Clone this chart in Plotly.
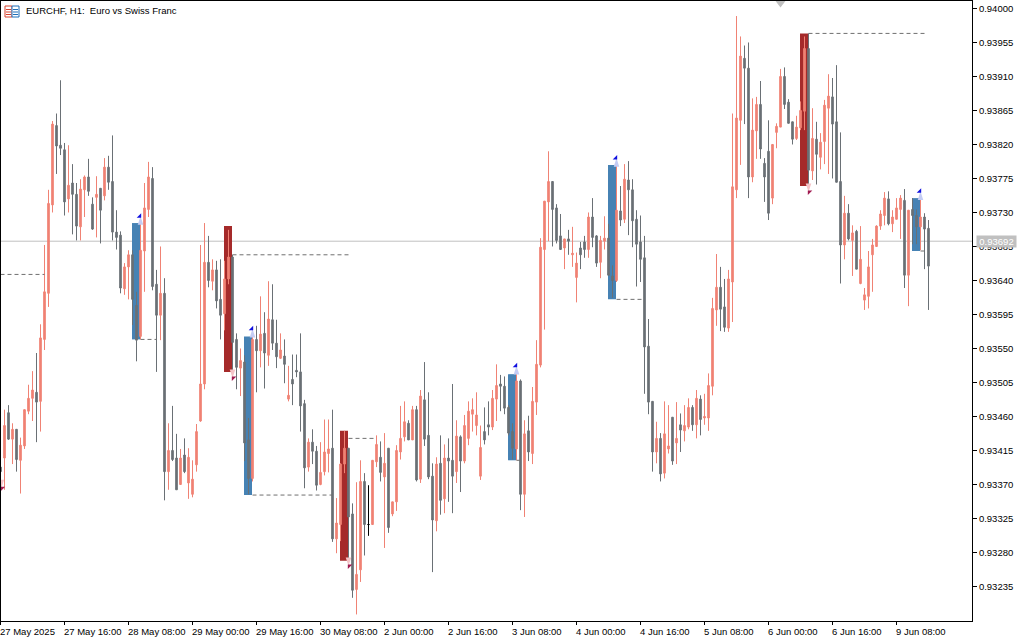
import plotly.graph_objects as go

# Prices are in points (1 point = 0.00001)
opens = [
93393,93405,93465,93430,93443,93402,93421,93467,93484,93492,
93480,93562,93623,93740,93845,93819,93813,93748,93769,93754,
93711,93760,93777,93741,93750,93762,93752,93790,93771,93704,
93700,93629,93658,93674,93607,93566,93679,93734,93775,93635,
93594,93623,93387,93415,93405,93370,93409,93372,93357,93396,
93454,93503,93664,93639,93654,93615,93596,93642,93671,93562,
93524,93532,93429,93378,93562,93547,93570,93541,93588,93557,
93537,93540,93483,93509,93521,93519,93477,93393,93426,93414,
93370,93387,93411,93418,93298,93317,93397,93418,93331,93231,
93257,93374,93317,93317,93400,93406,93380,93418,93331,93347,
93413,93433,93451,93429,93469,93377,93482,93435,93381,93322,
93398,93351,93405,93402,93387,93433,93401,93431,93463,93448,
93381,93440,93449,93446,93483,93503,93500,93472,93440,93417,
93507,93357,93441,93411,93479,93528,93681,93744,93771,93736,
93699,93683,93695,93674,93644,93683,93691,93681,93724,93699,
93664,93692,93696,93646,93640,93732,93721,93773,93760,93721,
93691,93670,93553,93480,93413,93431,93385,93417,93459,93425,
93449,93441,93446,93472,93449,93483,93458,93458,93500,93601,
93631,93605,93577,93638,93760,93852,93934,93921,93777,93838,
93873,93795,93811,93749,93836,93843,93910,93876,93850,93828,
93842,93864,93947,93785,93827,93803,93824,93868,93883,93850,
93771,93687,93729,93693,93705,93636,93614,93619,93674,93685,
93712,93726,93748,93715,93721,93734,93746,93647,93734,93726,
93711,93724,93709]
closes = [
93387,93448,93430,93443,93403,93422,93469,93484,93495,93479,
93564,93625,93742,93847,93818,93815,93744,93766,93754,93712,
93761,93777,93758,93708,93754,93733,93790,93770,93704,93697,
93630,93658,93674,93615,93561,93680,93736,93777,93632,93594,
93623,93387,93415,93403,93363,93405,93387,93406,93377,93440,
93503,93664,93640,93654,93613,93594,93642,93671,93558,93525,
93534,93425,93378,93562,93547,93569,93544,93589,93557,93539,
93548,93529,93488,93503,93519,93474,93392,93426,93414,93369,
93386,93413,93417,93298,93319,93397,93418,93327,93230,93251,
93374,93317,93317,93402,93423,93386,93398,93313,93347,93415,
93431,93453,93429,93469,93376,93487,93430,93380,93323,93397,
93349,93405,93401,93381,93434,93401,93448,93467,93469,93462,
93419,93429,93446,93484,93501,93500,93471,93438,93418,93507,
93357,93437,93413,93480,93529,93684,93745,93771,93734,93693,
93681,93695,93692,93676,93663,93674,93681,93724,93697,93663,
93693,93696,93647,93640,93733,93720,93774,93760,93719,93688,
93668,93552,93479,93413,93431,93384,93437,93421,93401,93431,
93442,93448,93472,93449,93484,93456,93460,93501,93603,93631,
93602,93578,93642,93764,93855,93937,93921,93777,93839,93873,
93814,93777,93729,93820,93844,93910,93873,93848,93827,93843,
93865,93947,93786,93828,93807,93823,93872,93884,93847,93770,
93687,93729,93695,93703,93655,93668,93621,93658,93687,93712,
93728,93749,93715,93724,93736,93749,93647,93733,93726,93711,
93724,93708,93659]
highs = [
93398,93469,93475,93451,93443,93432,93469,93502,93520,93544,
93582,93687,93760,93851,93861,93905,93822,93819,93794,93769,
93774,93779,93801,93750,93778,93762,93802,93805,93832,93733,
93705,93663,93680,93680,93625,93716,93769,93797,93790,93654,
93685,93643,93451,93474,93437,93417,93431,93418,93402,93450,
93687,93716,93699,93668,93666,93668,93666,93707,93674,93570,
93550,93541,93458,93566,93580,93619,93598,93639,93635,93588,
93570,93562,93527,93542,93542,93570,93482,93431,93443,93421,
93426,93456,93456,93469,93352,93398,93441,93418,93345,93373,
93402,93385,93369,93402,93435,93427,93438,93418,93347,93422,
93474,93480,93455,93474,93474,93495,93532,93492,93398,93406,
93435,93423,93431,93503,93455,93435,93462,93480,93484,93492,
93448,93472,93480,93495,93529,93515,93513,93475,93451,93516,
93509,93455,93461,93499,93561,93696,93745,93811,93771,93741,
93728,93695,93707,93711,93677,93691,93699,93730,93749,93700,
93699,93725,93715,93660,93793,93765,93794,93798,93774,93733,
93726,93699,93589,93480,93453,93438,93480,93475,93459,93479,
93464,93475,93484,93475,93495,93488,93490,93517,93617,93675,
93658,93642,93654,93861,93990,93963,93951,93955,93881,93883,
93904,93802,93852,93820,93848,93920,93922,93880,93850,93858,
93877,93963,93967,93868,93850,93835,93879,93913,93908,93925,
93836,93752,93741,93713,93707,93712,93630,93679,93695,93713,
93733,93757,93758,93733,93749,93753,93761,93733,93749,93734,
93749,93729,93720]
lows = [
93362,93363,93429,93397,93387,93358,93417,93463,93454,93426,
93440,93548,93605,93730,93781,93806,93726,93730,93701,93693,
93693,93724,93752,93707,93697,93689,93746,93760,93693,93681,
93623,93621,93615,93581,93533,93562,93625,93724,93627,93519,
93561,93349,93363,93401,93363,93370,93385,93351,93353,93387,
93453,93496,93631,93627,93603,93562,93574,93635,93517,93496,
93487,93401,93357,93374,93492,93525,93497,93527,93548,93524,
93536,93504,93480,93475,93512,93440,93365,93387,93397,93362,
93369,93382,93386,93294,93279,93295,93385,93267,93220,93198,
93241,93276,93302,93317,93393,93374,93286,93306,93328,93335,
93403,93427,93429,93429,93374,93372,93421,93377,93254,93308,
93330,93332,93347,93332,93372,93360,93398,93422,93440,93435,
93376,93423,93435,93442,93454,93467,93463,93435,93403,93402,
93336,93327,93401,93397,93462,93525,93575,93692,93685,93689,
93681,93655,93674,93658,93611,93655,93670,93670,93684,93658,
93643,93681,93647,93617,93638,93712,93716,93700,93684,93632,
93638,93490,93463,93387,93398,93374,93378,93411,93396,93397,
93413,93427,93443,93441,93431,93435,93449,93441,93488,93580,
93573,93572,93572,93585,93749,93793,93847,93749,93770,93801,
93801,93744,93720,93741,93815,93843,93867,93848,93820,93826,
93839,93839,93764,93773,93767,93787,93794,93781,93775,93770,
93636,93668,93693,93646,93655,93635,93601,93603,93625,93685,
93707,93713,93713,93704,93721,93695,93630,93606,93688,93688,
93680,93655,93601]
doji_index = [92]

# Two-bar highlighted zones: first bar, top and bottom price
blue_bars = [33, 61, 127, 152, 228]
blue_tops = [93716, 93566, 93516, 93793, 93749]
blue_bottoms = [93562, 93356, 93402, 93615, 93679]
red_bars = [56, 85, 200]
red_tops = [93712, 93441, 93967]
red_bottoms = [93519, 93269, 93765]

# Dashed levels: start bar, end bar, price
level_starts = [0, 35, 58, 63, 87, 129, 154, 202, 230]
level_ends = [11, 39, 87.25, 83, 94, 130, 161, 231.25, 231]
level_prices = [93648, 93562, 93674, 93356, 93431, 93402, 93615, 93967, 93679]

up_arrow_bars = [35, 63, 129, 154, 230]
up_arrow_prices = [93725, 93576, 93527, 93802, 93758]
down_arrow_bars = [58, 87, 202, 0.2]
down_arrow_prices = [93511, 93262, 93757, 93365]

last_price = 93692
y_ticks = [94000 - 45 * i for i in range(18)]
x_tick_bars = [16 * i for i in range(15)]
x_tick_labels = ["27 May 2025", "27 May 16:00", "28 May 08:00", "29 May 00:00", "29 May 16:00",
                 "30 May 08:00", "2 Jun 00:00", "2 Jun 16:00", "3 Jun 08:00", "4 Jun 00:00",
                 "4 Jun 16:00", "5 Jun 08:00", "6 Jun 00:00", "6 Jun 16:00", "9 Jun 08:00"]
title_text = "EURCHF, H1:  Euro vs Swiss Franc"

SALMON = "#f08274"
GRAY = "#6a7075"
FONT = "Liberation Sans"
W, H = 1024, 640
L, T, R, B = 0, 1, 972, 621


def px(a):
    return (a - L) / (R - L)


def py(b):
    return 1 - (b - T) / (B - T)


def p(v):
    return v / 1e5


idx = [i for i in range(len(opens)) if i not in doji_index]
fig = go.Figure()
fig.add_trace(go.Candlestick(
    x=idx,
    open=[p(opens[i]) for i in idx], high=[p(highs[i]) for i in idx],
    low=[p(lows[i]) for i in idx], close=[p(closes[i]) for i in idx],
    increasing=dict(line=dict(color=SALMON, width=1), fillcolor=SALMON),
    decreasing=dict(line=dict(color=GRAY, width=1), fillcolor=GRAY),
    showlegend=False, hoverinfo="skip"))
fig.add_trace(go.Candlestick(
    x=doji_index,
    open=[p(opens[i]) for i in doji_index], high=[p(highs[i]) for i in doji_index],
    low=[p(lows[i]) for i in doji_index], close=[p(closes[i]) for i in doji_index],
    increasing=dict(line=dict(color="#000000", width=1), fillcolor="#000000"),
    decreasing=dict(line=dict(color="#000000", width=1), fillcolor="#000000"),
    showlegend=False, hoverinfo="skip"))

lx, ly = [], []
for a, b, c in zip(level_starts, level_ends, level_prices):
    lx += [a, b, None]
    ly += [p(c), p(c), None]
fig.add_trace(go.Scatter(x=lx, y=ly, mode="lines", showlegend=False, hoverinfo="skip",
                         line=dict(color="#707070", width=1, dash="4px,3px")))


def arrows(xs, ys, angle, pale, half_sym, dark, side):
    fig.add_trace(go.Scatter(x=xs, y=[p(v) for v in ys], mode="markers", showlegend=False, hoverinfo="skip",
                             marker=dict(symbol="arrow", angle=angle, size=9, color=pale, line=dict(width=0))))
    fig.add_trace(go.Scatter(x=[k + side * 0.2 for k in xs], y=[p(v) for v in ys], mode="markers",
                             showlegend=False, hoverinfo="skip",
                             marker=dict(symbol=half_sym, size=5, color=dark, line=dict(width=0))))


arrows(up_arrow_bars, up_arrow_prices, 0, "#c4ccf4", "triangle-se", "#1010e0", -1)
arrows(down_arrow_bars, down_arrow_prices, 180, "#f4c4c8", "triangle-nw", "#a01a50", 1)
fig.add_trace(go.Scatter(x=[195], y=[0.94008], mode="markers", showlegend=False, hoverinfo="skip",
                         marker=dict(symbol="triangle-down", size=10, color="#c0c0c0", line=dict(width=0))))

shapes = []
for k, t, b in zip(blue_bars, blue_tops, blue_bottoms):
    shapes.append(dict(type="rect", xref="x", yref="y", layer="below", x0=k - 0.125, x1=k + 1.875,
                       y0=p(b), y1=p(t), fillcolor="#4682b4", line=dict(width=0)))
for k, t, b in zip(red_bars, red_tops, red_bottoms):
    shapes.append(dict(type="rect", xref="x", yref="y", layer="below", x0=k - 0.125, x1=k + 1.875,
                       y0=p(b), y1=p(t), fillcolor="#a52a2a", line=dict(width=0)))
shapes.append(dict(type="line", xref="paper", yref="y", layer="below", x0=0, x1=1,
                   y0=p(last_price), y1=p(last_price), line=dict(color="#c0c0c0", width=1)))


def rect(x0, y0, x1, y1, fill=None, line=None):
    return dict(type="rect", xref="paper", yref="paper", x0=px(x0), x1=px(x1), y0=py(y1), y1=py(y0),
                fillcolor=fill or "rgba(0,0,0,0)", line=dict(color=line or "rgba(0,0,0,0)", width=1 if line else 0))


# Left edge of the frame
shapes.append(rect(0, 0, 1, 621, "#000000"))
# Symbol icon, top left
shapes += [rect(5, 6, 12, 17, "#ffffff", "#d8402c"), rect(12, 6, 19, 17, "#ffffff", "#1f6fb8")]
for yy in (9, 11.5, 14):
    shapes.append(rect(6, yy, 11, yy + 1, "#d8402c"))
    shapes.append(rect(13, yy, 18, yy + 1, "#1f6fb8"))

annotations = [
    dict(xref="paper", yref="paper", x=px(24), y=py(11), xanchor="left", yanchor="middle", showarrow=False,
         text=title_text, font=dict(family=FONT, size=9.5, color="#000000")),
    dict(xref="paper", yref="y", x=px(976), y=p(last_price), xanchor="left", yanchor="middle", showarrow=False,
         text=f"{p(last_price):.5f}", bgcolor="#c0c0c0", borderpad=0, width=39, height=11, align="center",
         font=dict(family=FONT, size=9.5, color="#ffffff")),
]
for k, t in zip(x_tick_bars, x_tick_labels):
    annotations.append(dict(xref="x", yref="paper", x=k, y=py(631), xanchor="left", yanchor="middle",
                            xshift=-3, showarrow=False, text=t,
                            font=dict(family=FONT, size=9.5, color="#000000")))

fig.update_layout(
    width=W, height=H, autosize=False, paper_bgcolor="#ffffff", plot_bgcolor="#ffffff",
    margin=dict(l=L, r=W - R, t=T, b=H - B, pad=0), showlegend=False, boxgap=0.42, boxmode="overlay",
    shapes=shapes, annotations=annotations, hovermode=False,
    xaxis=dict(range=[(L - 0.5) / 4, (R - 0.5) / 4], rangeslider=dict(visible=False), showgrid=False, zeroline=False,
               tickmode="array", tickvals=x_tick_bars, ticktext=x_tick_labels, showticklabels=False,
               ticks="outside", ticklen=3, tickwidth=1,
               tickcolor="#000000", showline=True, mirror=True, linecolor="#000000", linewidth=1),
    yaxis=dict(range=[p(94009.9), p(93189.3)][::-1], side="right", showgrid=False, zeroline=False,
               tickmode="array", tickvals=[p(v) for v in y_ticks], ticktext=[f"{p(v):.5f}" for v in y_ticks],
               ticks="outside", ticklen=4, tickwidth=1, tickcolor="#000000", showline=True, mirror=True,
               linecolor="#000000", linewidth=1, tickfont=dict(family=FONT, size=9.5, color="#000000")),
)
fig.write_html("out.html", config={"displayModeBar": False},
               post_script="document.body.style.margin='0';document.body.style.overflow='hidden';")
